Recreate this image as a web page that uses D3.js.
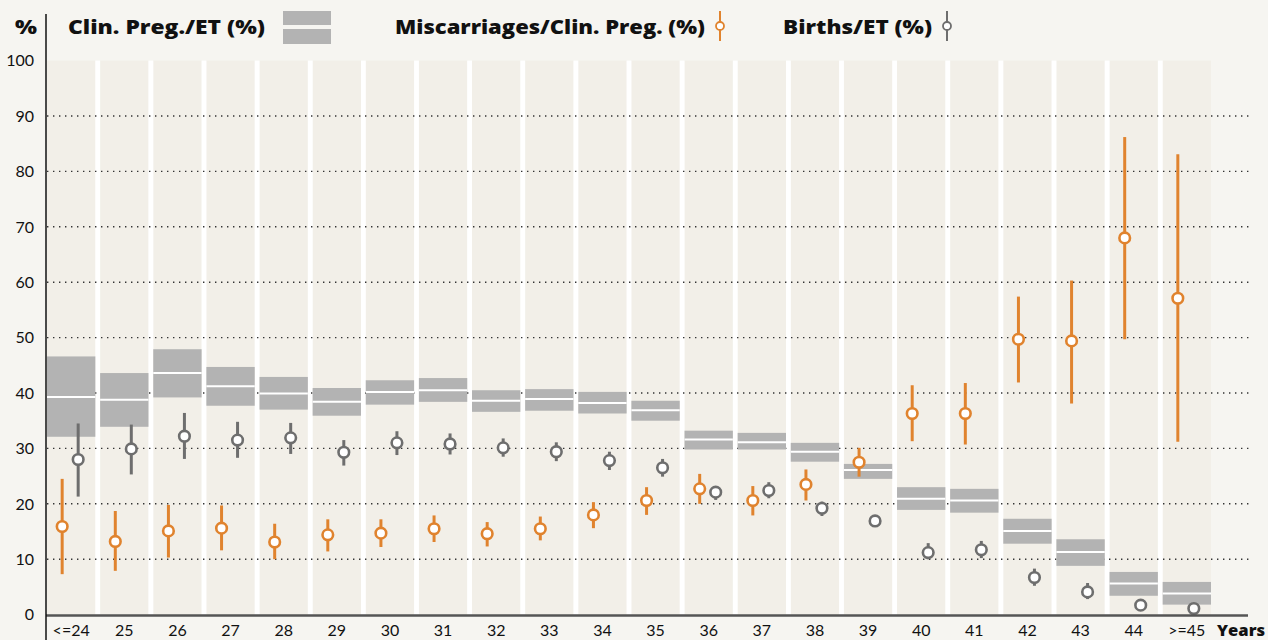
<!DOCTYPE html>
<html>
<head>
<meta charset="utf-8">
<script src="https://cdn.jsdelivr.net/npm/d3@7"></script>
<style>
  body { margin: 0; background: #f6f5f1; }
  svg { display: block; }
  text { font-family: Lato, "Open Sans", sans-serif; fill: #111; }
  text.bold { font-family: "Open Sans", sans-serif; font-weight: 800; }
</style>
</head>
<body>
<svg id="viz" width="1268" height="640"></svg>
<script>
var ages = ["<=24","25","26","27","28","29","30","31","32","33","34","35","36","37","38","39","40","41","42","43","44",">=45"];

// Clin. Preg./ET (%)
var pregMid  = [39.3, 38.8, 43.6, 41.2, 39.9, 38.4, 40.2, 40.5, 38.6, 38.9, 38.2, 36.9, 31.6, 31.1, 29.4, 26.1, 20.9, 20.6, 15.1, 11.3, 5.6, 3.8];
var pregLow  = [32.1, 33.9, 39.2, 37.7, 37.0, 35.9, 37.9, 38.4, 36.6, 36.8, 36.3, 35.0, 29.8, 29.8, 27.6, 24.5, 18.9, 18.4, 12.8, 8.8, 3.4, 1.8];
var pregHigh = [46.6, 43.6, 47.9, 44.7, 42.9, 40.9, 42.3, 42.7, 40.5, 40.7, 40.2, 38.6, 33.2, 32.8, 31.0, 27.2, 23.0, 22.7, 17.3, 13.6, 7.7, 5.9];

// Miscarriages/Clin. Preg. (%)
var miscMid  = [15.9, 13.2, 15.1, 15.6, 13.1, 14.4, 14.7, 15.5, 14.6, 15.5, 18.0, 20.6, 22.7, 20.6, 23.5, 27.5, 36.3, 36.3, 49.7, 49.4, 68.0, 57.1];
var miscLow  = [7.3, 7.9, 10.3, 11.6, 10.0, 11.4, 12.2, 13.1, 12.3, 13.4, 15.6, 18.0, 20.0, 17.9, 20.6, 24.9, 31.3, 30.7, 41.9, 38.1, 49.7, 31.2];
var miscHigh = [24.5, 18.7, 19.8, 19.7, 16.4, 17.2, 17.2, 17.9, 16.7, 17.7, 20.3, 23.0, 25.4, 23.2, 26.2, 30.1, 41.4, 41.8, 57.4, 60.3, 86.2, 83.1];

// Births/ET (%)
var birthMid  = [28.0, 29.9, 32.2, 31.5, 31.9, 29.3, 31.0, 30.8, 30.1, 29.4, 27.8, 26.5, 22.1, 22.4, 19.2, 16.9, 11.2, 11.7, 6.7, 4.1, 1.7, 1.1];
var birthLow  = [21.3, 25.3, 28.1, 28.3, 29.0, 26.9, 28.8, 28.9, 28.5, 27.7, 26.1, 24.9, 20.7, 21.0, 17.8, 16.2, 10.0, 10.2, 5.2, 2.8, 1.0, 0.5];
var birthHigh = [34.5, 34.3, 36.4, 34.8, 34.6, 31.5, 33.1, 32.7, 31.8, 31.1, 29.4, 28.1, 23.2, 23.9, 20.4, 17.6, 12.9, 13.3, 8.3, 5.7, 2.4, 1.7];

var yTicks = [0, 10, 20, 30, 40, 50, 60, 70, 80, 90, 100];

var orange = "#e0832e";
var grey = "#6e6e6e";
var boxGrey = "#b3b3b3";

var svg = d3.select("#viz");

var x = d3.scaleBand().domain(ages).range([47, 1211]).paddingInner(0.09).paddingOuter(0);
var y = d3.scaleLinear().domain([0, 100]).range([614.6, 60.6]);

// column backgrounds
svg.selectAll("rect.col")
  .data(ages)
  .enter()
  .append("rect")
  .attr("x", function(d) { return x(d); })
  .attr("y", y(100))
  .attr("width", x.bandwidth())
  .attr("height", y(0) - y(100))
  .style("fill", "#f2efe8");

// white gaps between columns
svg.selectAll("rect.gap")
  .data(ages.slice(1))
  .enter()
  .append("rect")
  .attr("x", function(d) { return x(d) - (x.step() - x.bandwidth()); })
  .attr("y", y(100))
  .attr("width", x.step() - x.bandwidth())
  .attr("height", y(0) - y(100))
  .style("fill", "#ffffff");

// dotted grid
svg.selectAll("line.grid")
  .data(yTicks.filter(function(d) { return d > 0 && d < 100; }))
  .enter()
  .append("line")
  .attr("x1", 47)
  .attr("x2", 1250)
  .attr("y1", function(d) { return y(d); })
  .attr("y2", function(d) { return y(d); })
  .style("stroke", "#333")
  .style("stroke-width", 1.4)
  .style("stroke-dasharray", "1.4,4.6");

// y tick labels
svg.selectAll("text.ytick")
  .data(yTicks)
  .enter()
  .append("text")
  .attr("x", 34)
  .attr("y", function(d) { return y(d); })
  .attr("dy", "0.36em")
  .attr("text-anchor", "end")
  .style("font-size", "16px")
  .text(function(d) { return d; });

// Clin. Preg. boxes
var pregData = ages.map(function(a, i) { return {age: a, mid: pregMid[i], lo: pregLow[i], hi: pregHigh[i]}; });

svg.selectAll("rect.preg")
  .data(pregData)
  .enter()
  .append("rect")
  .attr("x", function(d) { return x(d.age); })
  .attr("y", function(d) { return y(d.hi); })
  .attr("width", x.bandwidth())
  .attr("height", function(d) { return y(d.lo) - y(d.hi); })
  .style("fill", boxGrey);

svg.selectAll("line.pregmid")
  .data(pregData)
  .enter()
  .append("line")
  .attr("x1", function(d) { return x(d.age); })
  .attr("x2", function(d) { return x(d.age) + x.bandwidth(); })
  .attr("y1", function(d) { return y(d.mid); })
  .attr("y2", function(d) { return y(d.mid); })
  .style("stroke", "#fff")
  .style("stroke-width", 2);

// error bars + circles
function draw_points(mid, lo, hi, color, offset) {
  var pts = ages.map(function(a, i) { return {age: a, mid: mid[i], lo: lo[i], hi: hi[i]}; });
  var g = svg.append("g");
  var cx = function(d) { return x(d.age) + x.bandwidth() / 2 + offset; };

  g.selectAll("line")
    .data(pts)
    .enter()
    .append("line")
    .attr("x1", cx)
    .attr("x2", cx)
    .attr("y1", function(d) { return y(d.hi); })
    .attr("y2", function(d) { return y(d.lo); })
    .style("stroke", color)
    .style("stroke-width", 3);

  g.selectAll("circle")
    .data(pts)
    .enter()
    .append("circle")
    .attr("cx", cx)
    .attr("cy", function(d) { return y(d.mid); })
    .attr("r", 5.3)
    .style("fill", "#fff")
    .style("stroke", color)
    .style("stroke-width", 2.6);
}

draw_points(miscMid, miscLow, miscHigh, orange, -9);
draw_points(birthMid, birthLow, birthHigh, grey, 7);

// axes lines
svg.append("line")
  .attr("x1", 46).attr("x2", 1248)
  .attr("y1", y(0) + 1).attr("y2", y(0) + 1)
  .style("stroke", "#555")
  .style("stroke-width", 2.5);

svg.append("line")
  .attr("x1", 46).attr("x2", 46)
  .attr("y1", 14).attr("y2", 640)
  .style("stroke", "#111")
  .style("stroke-width", 1.5);

// x tick labels
svg.selectAll("text.xtick")
  .data(ages)
  .enter()
  .append("text")
  .attr("x", function(d) { return x(d) + x.bandwidth() / 2; })
  .attr("y", 636)
  .attr("text-anchor", "middle")
  .style("font-size", "16px")
  .text(function(d) { return d; });

svg.append("text")
  .attr("class", "bold")
  .attr("x", 1217).attr("y", 636)
  .attr("textLength", 48)
  .attr("lengthAdjust", "spacingAndGlyphs")
  .style("font-size", "15px")
  .text("Years");

// legend
function legend_text(x0, w, label) {
  svg.append("text")
    .attr("class", "bold")
    .attr("x", x0).attr("y", 34)
    .attr("textLength", w)
    .attr("lengthAdjust", "spacingAndGlyphs")
    .style("font-size", "20px")
    .text(label);
}
legend_text(15, 22, "%");
legend_text(68, 197, "Clin. Preg./ET (%)");
legend_text(395, 310, "Miscarriages/Clin. Preg. (%)");
legend_text(783, 149, "Births/ET (%)");

svg.append("rect")
  .attr("x", 283).attr("y", 11)
  .attr("width", 48).attr("height", 33)
  .style("fill", boxGrey);
svg.append("line")
  .attr("x1", 283).attr("x2", 331)
  .attr("y1", 27).attr("y2", 27)
  .style("stroke", "#f6f5f1")
  .style("stroke-width", 4);

function legend_icon(cx, color) {
  svg.append("line")
    .attr("x1", cx).attr("x2", cx)
    .attr("y1", 11).attr("y2", 41)
    .style("stroke", color)
    .style("stroke-width", 2);
  svg.append("circle")
    .attr("cx", cx).attr("cy", 26)
    .attr("r", 4)
    .style("fill", "#fff")
    .style("stroke", color)
    .style("stroke-width", 1.8);
}
legend_icon(720, orange);
legend_icon(947, grey);
</script>
</body>
</html>
